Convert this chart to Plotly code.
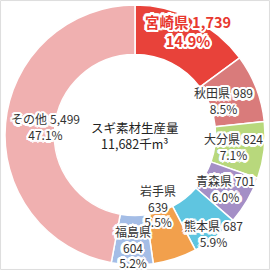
import math
import plotly.graph_objects as go

# ---- data ----
prefectures = ["宮崎県", "秋田県", "大分県", "青森県", "熊本県", "岩手県", "福島県", "その他"]
volumes = [1739, 989, 824, 701, 687, 639, 604, 5499]   # 千m3
shares = [14.9, 8.5, 7.1, 6.0, 5.9, 5.5, 5.2, 47.1]    # %
total_label = "スギ素材生産量"
total_value = 11682

# ---- styles ----
colors = ["#e8423a", "#d97b7b", "#b8d87c", "#a48fc6", "#5fc5e0", "#f2a04c", "#a4bde6", "#f0b0b0"]
label_break = [False, False, False, False, False, True, True, False]   # label split into 3 lines
label_r = [0.90, 0.73, 0.76, 0.81, 0.97, 0.57, 0.86, 0.69]              # radial position (fraction of outer radius)

W = H = 270
CX, CY = 135, 135
R = 130
FONT = "Noto Sans CJK JP, Noto Sans, sans-serif"
GAP = "\u2005"
HALO = []
for k in range(16):
    a = 2 * math.pi * k / 16
    HALO.append((round(2.4 * math.cos(a), 2), round(2.4 * math.sin(a), 2)))
for k in range(8):
    a = 2 * math.pi * k / 8 + math.pi / 8
    HALO.append((round(1.3 * math.cos(a), 2), round(1.3 * math.sin(a), 2)))

fig = go.Figure(go.Pie(
    labels=prefectures,
    values=volumes,
    sort=False,
    direction="clockwise",
    rotation=0,
    hole=0.62,
    marker=dict(colors=colors, line=dict(color="white", width=1.5)),
    textinfo="none",
    hoverinfo="label+value+percent",
    domain=dict(x=[(CX - R) / W, (CX + R) / W], y=[1 - (CY + R) / H, 1 - (CY - R) / H]),
    showlegend=False,
))

halo_annotations = []
annotations = []
tot = sum(volumes)
cum = 0
for i, (name, v, s) in enumerate(zip(prefectures, volumes, shares)):
    mid = (cum + v / 2) / tot * 2 * math.pi
    cum += v
    r = label_r[i] * R
    px = CX + r * math.sin(mid)
    py = CY - r * math.cos(mid)
    if label_break[i]:
        txt = f"{name}<br>{v:,}<br>{s:.1f}%"
    else:
        txt = f"{name}{GAP}{v:,}<br>{s:.1f}%"
    if i == 0:
        font = dict(family=FONT, size=14.5, color="#e8382f", weight="bold")
    else:
        font = dict(family=FONT, size=12, color="#333333")
    base = dict(x=px / W, y=1 - py / H, xref="paper", yref="paper",
                text=txt, showarrow=False, align="center",
                xanchor="center", yanchor="middle")
    for dx, dy in HALO:
        hf = dict(font)
        hf["color"] = "#ffffff"
        halo_annotations.append(dict(base, font=hf, xshift=dx, yshift=dy))
    annotations.append(dict(base, font=font))

annotations.append(dict(
    x=CX / W, y=1 - CY / H, xref="paper", yref="paper",
    text=f"{total_label}<br>{total_value:,}千m³",
    showarrow=False, align="center", xanchor="center", yanchor="middle",
    font=dict(family=FONT, size=12.5, color="#222222"),
))

fig.update_layout(
    width=W, height=H,
    margin=dict(l=0, r=0, t=0, b=0),
    paper_bgcolor="white",
    plot_bgcolor="white",
    annotations=halo_annotations + annotations,
    shapes=[dict(type="rect", xref="paper", yref="paper", x0=0.002, y0=0.002, x1=0.998, y1=0.998,
                 line=dict(color="#dddddd", width=1), layer="below")],
)

fig.write_html("out.html")
